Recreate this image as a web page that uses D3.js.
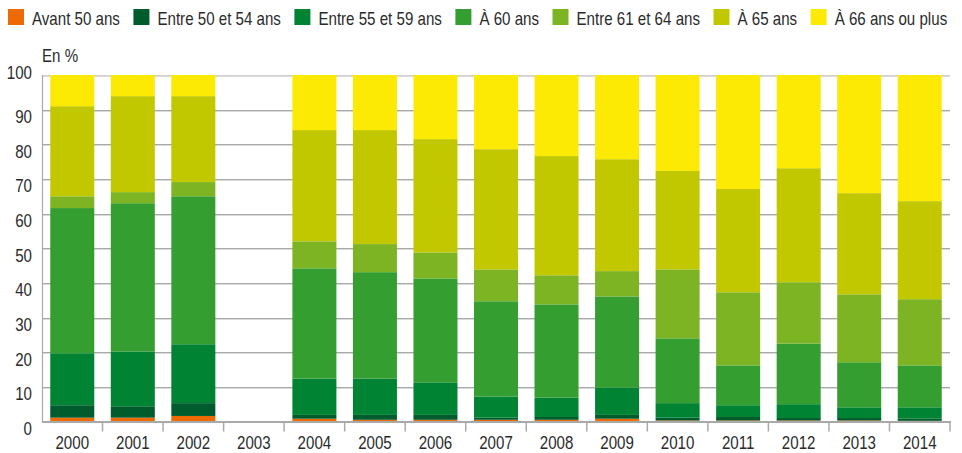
<!DOCTYPE html>
<html>
<head>
<meta charset="utf-8">
<script src="https://cdn.jsdelivr.net/npm/d3@7"></script>
<style>
  html, body { margin: 0; padding: 0; background: #fff; }
  svg { display: block; font-family: "Liberation Sans", Arial, sans-serif; }
</style>
</head>
<body>
<svg id="chart" width="962" height="453"></svg>
<script>
// Years on the x axis (2003 has no data)
const years = ["2000","2001","2002","2003","2004","2005","2006","2007","2008","2009","2010","2011","2012","2013","2014"];

// Age groups, bottom to top of each stack
const ageGroups = ["Avant 50 ans","Entre 50 et 54 ans","Entre 55 et 59 ans","À 60 ans","Entre 61 et 64 ans","À 65 ans","À 66 ans ou plus"];
const groupColors = ["#ee6a04","#005b2d","#008333","#359e30","#7db423","#c2c800","#fce904"];

// Share of each age group, in %
const avant50   = [1.1, 1.1, 1.6, null, 0.8, 0.5, 0.5, 0.5, 0.5, 0.8, 0.3, 0.3, 0.3, 0.3, 0.2];
const de50a54   = [3.6, 3.3, 3.7, null, 1.1, 1.4, 1.4, 0.6, 0.8, 1.1, 0.8, 1.0, 0.7, 0.7, 0.6];
const de55a59   = [15.0, 15.8, 17.0, null, 10.5, 10.5, 9.4, 6.1, 5.6, 7.9, 4.2, 3.4, 4.0, 3.1, 3.3];
const a60       = [41.9, 42.8, 42.7, null, 31.8, 30.7, 30.0, 27.5, 26.9, 26.3, 18.7, 11.5, 17.5, 13.0, 12.1];
const de61a64   = [3.4, 3.2, 4.1, null, 7.8, 8.1, 7.5, 9.2, 8.4, 7.3, 19.9, 21.1, 17.7, 19.6, 19.1];
const a65       = [26.0, 27.7, 24.8, null, 32.1, 32.9, 32.7, 34.7, 34.4, 32.3, 28.4, 29.8, 32.9, 29.2, 28.3];
const a66etPlus = [9.0, 6.1, 6.1, null, 15.9, 15.9, 18.5, 21.4, 23.4, 24.3, 27.7, 32.9, 26.9, 34.1, 36.4];

const yTicks = [0, 10, 20, 30, 40, 50, 60, 70, 80, 90, 100];

const seriesValues = [avant50, de50a54, de55a59, a60, de61a64, a65, a66etPlus];

// Table for d3.stack: one row per year
const rows = years.map((y, i) => {
  const r = { year: y, empty: seriesValues.every(s => s[i] == null) };
  ageGroups.forEach((g, k) => { r[g] = seriesValues[k][i] || 0; });
  return r;
});

const svg = d3.select("#chart");
const plot = { left: 42, right: 950, top: 75, bottom: 421.5 };
const textColor = "#2b2b2b";
const fontSize = 18;
const narrow = 0.84; // horizontal squeeze for a condensed look

// Draws a horizontally condensed label anchored at (tx, ty)
function label(parent, tx, ty, str, anchor) {
  const g = parent.append("g")
    .attr("transform", `translate(${tx},${ty}) scale(${narrow},1)`);
  const t = g.append("text")
    .attr("text-anchor", anchor || "start")
    .attr("font-size", fontSize)
    .attr("fill", textColor)
    .text(str);
  return t.node().getComputedTextLength() * narrow;
}

const x = d3.scaleBand()
  .domain(years)
  .range([plot.left, plot.right])
  .paddingInner(0.273)
  .paddingOuter(0.1365);

const y = d3.scaleLinear()
  .domain([0, 100])
  .range([plot.bottom, plot.top]);

// Horizontal grid lines
const grid = svg.append("g");
yTicks.filter(t => t > 0).forEach(t => {
  const yy = Math.round(y(t));
  grid.append("line")
    .attr("x1", plot.left).attr("x2", plot.right)
    .attr("y1", yy + 0.5).attr("y2", yy + 0.5)
    .attr("stroke", t === 100 ? "#d2d2d2" : "#a9a9a9")
    .attr("stroke-width", 1);
  grid.append("line")
    .attr("x1", plot.left).attr("x2", plot.right)
    .attr("y1", yy + 1.5).attr("y2", yy + 1.5)
    .attr("stroke", "#dadada")
    .attr("stroke-width", 1);
});

// Stacked bars
const stacked = d3.stack().keys(ageGroups)(rows);
svg.append("g")
  .selectAll("g")
  .data(stacked)
  .join("g")
    .attr("fill", (d, i) => groupColors[i])
  .selectAll("rect")
  .data(d => d.filter(p => !p.data.empty))
  .join("rect")
    .attr("x", d => x(d.data.year))
    .attr("width", x.bandwidth())
    .attr("y", d => y(d[1]))
    .attr("height", d => y(d[0]) - y(d[1]));

// Left axis line
svg.append("line")
  .attr("x1", plot.left + 0.5).attr("x2", plot.left + 0.5)
  .attr("y1", plot.top).attr("y2", plot.bottom + 1)
  .attr("stroke", "#a9a9a9").attr("stroke-width", 1.2);

// Bottom axis line and separators between years
svg.append("line")
  .attr("x1", plot.left).attr("x2", plot.right + 1)
  .attr("y1", plot.bottom + 0.5).attr("y2", plot.bottom + 0.5)
  .attr("stroke", "#a9a9a9").attr("stroke-width", 2);

const step = x.step();
svg.append("g")
  .selectAll("line")
  .data(d3.range(1, years.length + 1))
  .join("line")
    .attr("x1", i => plot.left + i * step)
    .attr("x2", i => plot.left + i * step)
    .attr("y1", plot.bottom)
    .attr("y2", plot.bottom + 10)
    .attr("stroke", "#a9a9a9")
    .attr("stroke-width", 1.5);

// Year labels
const xLabels = svg.append("g");
years.forEach(d => label(xLabels, x(d) + x.bandwidth() / 2, 449, d, "middle"));

// Value labels on the left (placed just under their grid line, the top one raised)
const yLabels = svg.append("g");
yTicks.forEach(d => label(yLabels, 32, d === 100 ? y(d) + 3.5 : y(d) + 13.5, String(d), "end"));

// Unit
label(svg, 42, 62, "En %");

// Legend across the top
const legend = svg.append("g");
let lx = 8;
ageGroups.forEach((g, i) => {
  legend.append("rect")
    .attr("x", lx).attr("y", 9)
    .attr("width", 16).attr("height", 16)
    .attr("fill", groupColors[i]);
  const w = label(legend, lx + 24, 25, g);
  lx += 24 + w + 13.5;
});
</script>
</body>
</html>
